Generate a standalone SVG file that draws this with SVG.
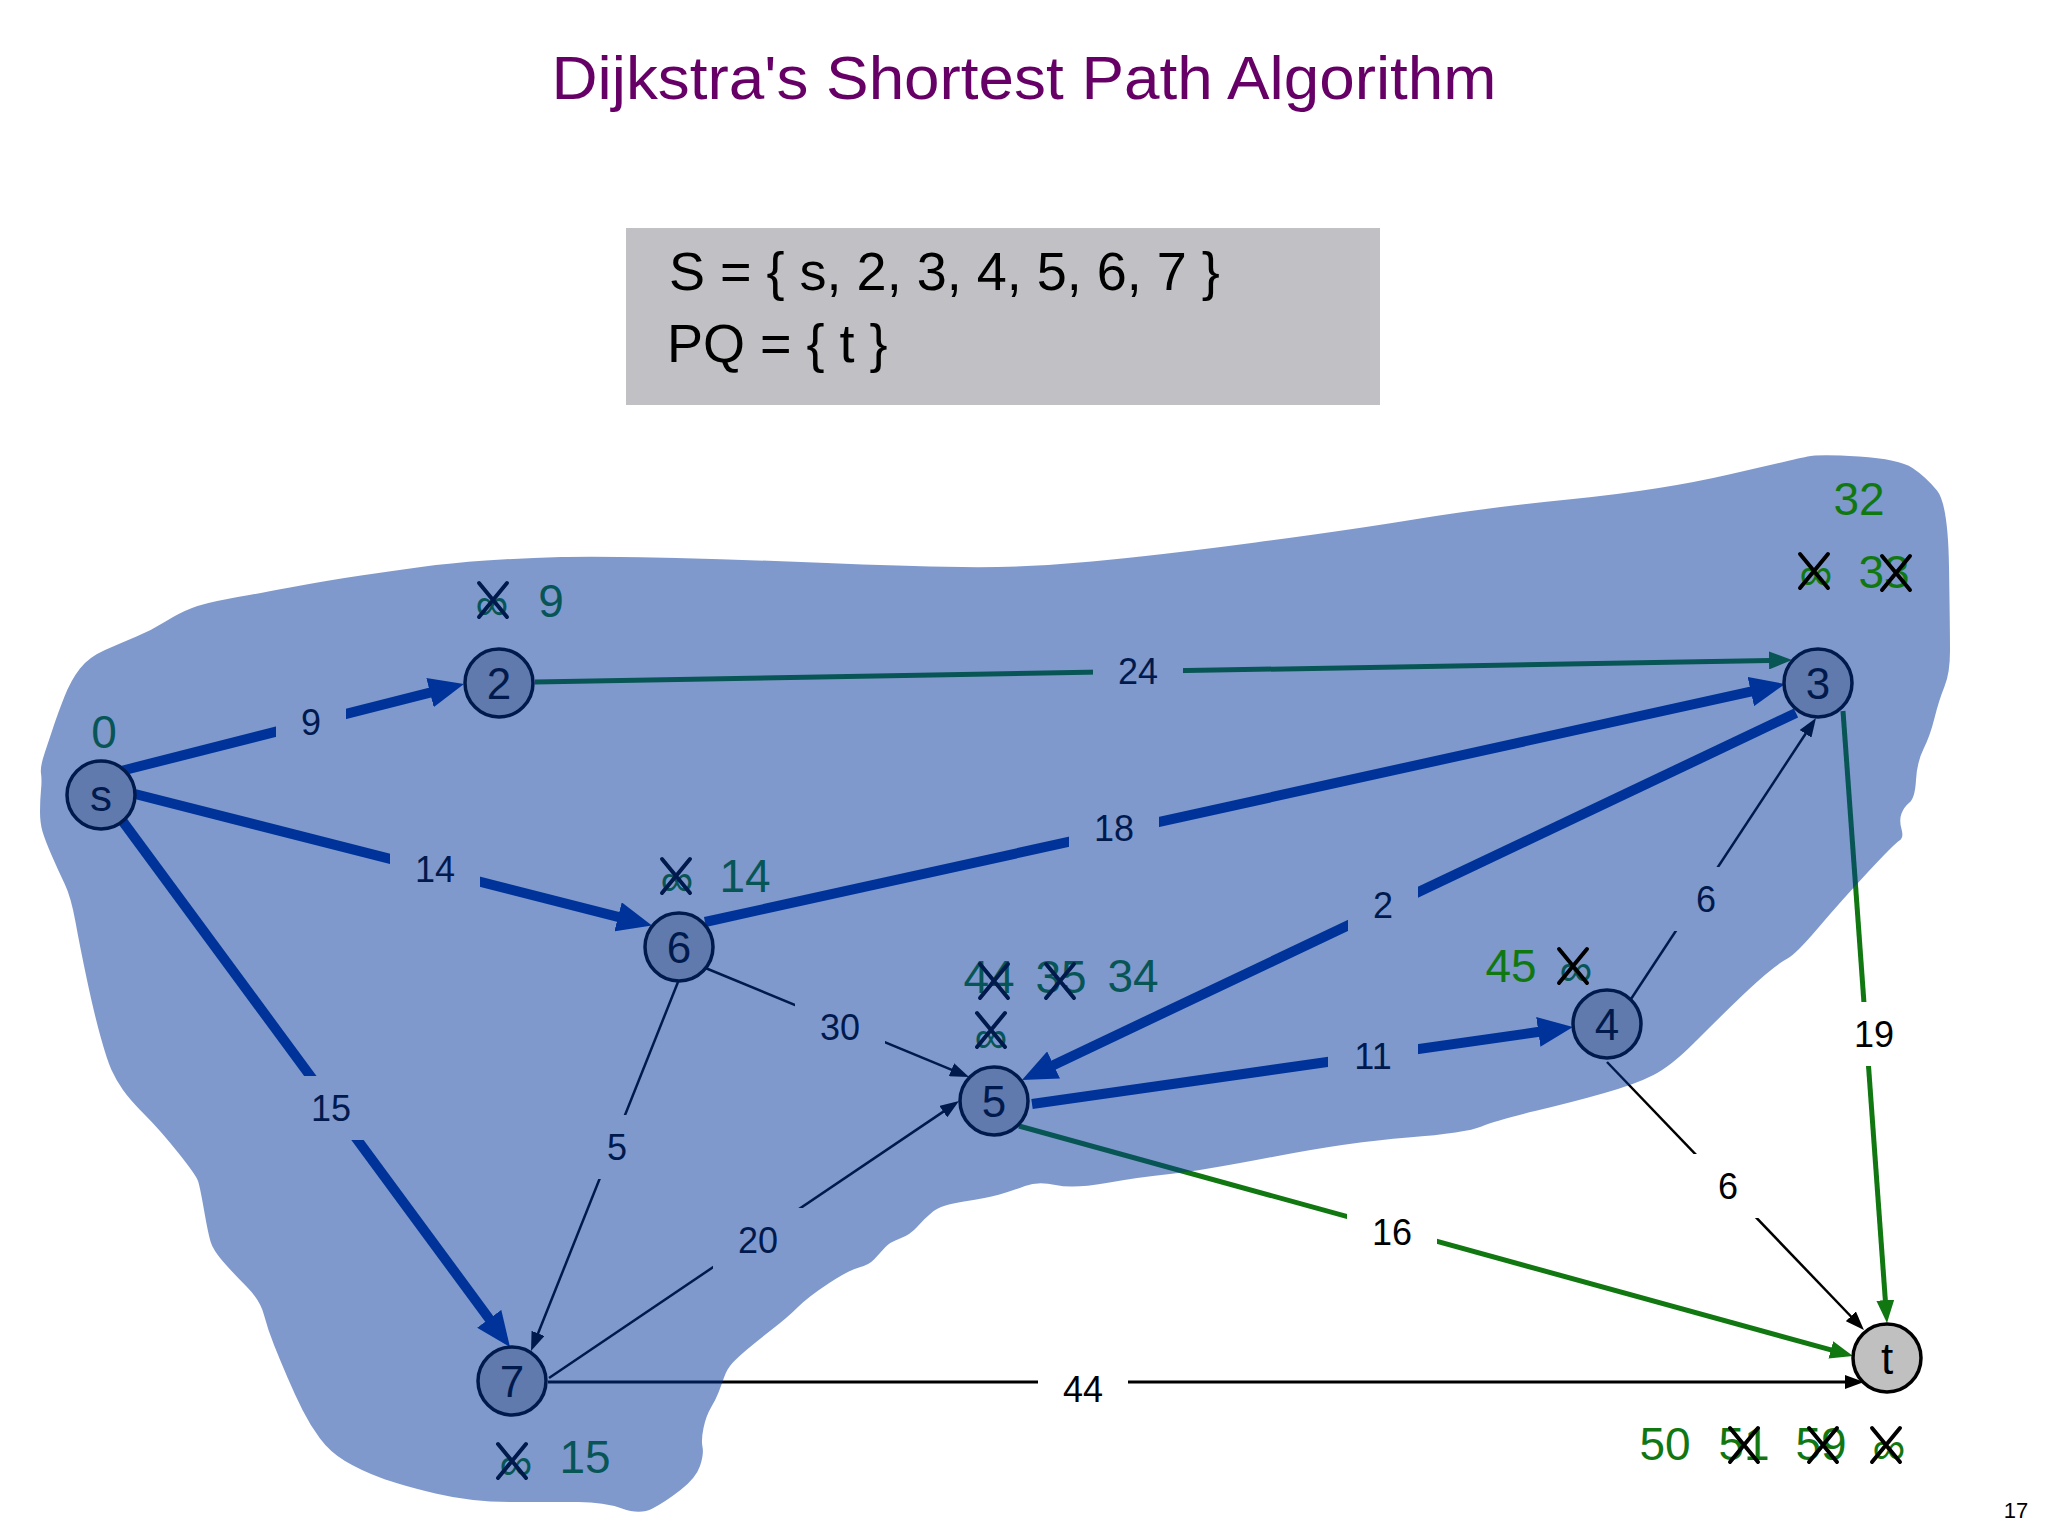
<svg xmlns="http://www.w3.org/2000/svg" xmlns:xlink="http://www.w3.org/1999/xlink" width="2048" height="1536" viewBox="0 0 2048 1536">
<style>
text{font-family:"Liberation Sans",Arial,sans-serif}
.title{font-size:62px;fill:#660066;text-anchor:middle}
.box{font-size:54px;fill:#000}
.el{font-size:36px;fill:#000;text-anchor:middle}
.nl{font-size:44px;fill:#000;text-anchor:middle}
.dl{font-size:46px;fill:#117711;text-anchor:middle}
.x{stroke:#000;stroke-width:4;stroke-linecap:round;fill:none}
.thick{stroke:#003399;stroke-width:10;fill:none}
.green{stroke:#117711;stroke-width:5;fill:none}
.thin{stroke:#000;stroke-width:2.5;fill:none}
.lb{fill:#fff}
.node circle{fill:#C0C0C0;stroke:#000;stroke-width:3.5}
</style>
<defs>
<marker id="aThick" markerUnits="userSpaceOnUse" markerWidth="36" markerHeight="30" viewBox="0 0 36 30" refX="1" refY="15" orient="auto"><path d="M0,0 L35,15 L0,30 z" fill="#003399"/></marker>
<marker id="aGreen" markerUnits="userSpaceOnUse" markerWidth="24" markerHeight="18" viewBox="0 0 24 18" refX="1" refY="9" orient="auto"><path d="M0,0 L23,9 L0,18 z" fill="#117711"/></marker>
<marker id="aThin" markerUnits="userSpaceOnUse" markerWidth="20" markerHeight="14" viewBox="0 0 20 14" refX="1" refY="7" orient="auto"><path d="M0,0 L19,7 L0,14 z" fill="#000"/></marker>
<g id="xm"><path class="x" d="M-14,-17 L14,17 M14,-17 L-14,17"/></g>
</defs>
<rect width="2048" height="1536" fill="#fff"/>
<text class="title" x="1024" y="99" textLength="945" lengthAdjust="spacingAndGlyphs">Dijkstra's Shortest Path Algorithm</text>
<g id="status">
<rect x="626" y="228" width="754" height="177" fill="#C1C0C4"/>
<text class="box" x="669" y="290">S = { s, 2, 3, 4, 5, 6, 7 }</text>
<text class="box" x="667" y="362">PQ = { t }</text>
</g>
<g id="connectors">
<line class="green" x1="535" y1="682" x2="1770" y2="660.4" marker-end="url(#aGreen)"/>
<line class="green" x1="1843" y1="711" x2="1885.4" y2="1301.1" marker-end="url(#aGreen)"/>
<line class="green" x1="1019" y1="1126" x2="1831.8" y2="1350.2" marker-end="url(#aGreen)"/>
<line class="thin" x1="703" y1="967" x2="952.4" y2="1070.1" marker-end="url(#aThin)"/>
<line class="thin" x1="678" y1="982" x2="537.7" y2="1334.3" marker-end="url(#aThin)"/>
<line class="thin" x1="549" y1="1378" x2="944.1" y2="1111.1" marker-end="url(#aThin)"/>
<line class="thin" x1="1631" y1="999" x2="1806.1" y2="733" marker-end="url(#aThin)"/>
<line class="thin" x1="1607" y1="1062" x2="1851.5" y2="1317" marker-end="url(#aThin)"/>
<line class="thin" x1="548" y1="1382" x2="1846" y2="1382" marker-end="url(#aThin)" style="stroke-width:3"/>
<line class="thick" x1="121" y1="771" x2="431" y2="692.4" marker-end="url(#aThick)"/>
<line class="thick" x1="135" y1="794" x2="619" y2="917.1" marker-end="url(#aThick)"/>
<line class="thick" x1="121" y1="819" x2="489.8" y2="1319.6" marker-end="url(#aThick)"/>
<line class="thick" x1="705" y1="922" x2="1751.8" y2="691.3" marker-end="url(#aThick)"/>
<line class="thick" x1="1796" y1="713" x2="1052.7" y2="1065.4" marker-end="url(#aThick)"/>
<line class="thick" x1="1032" y1="1104" x2="1539.3" y2="1031.8" marker-end="url(#aThick)"/>
<g id="edge-labels">
<rect class="lb" x="276" y="690" width="70" height="64"/><text class="el" x="311" y="735">9</text>
<rect class="lb" x="390" y="837" width="90" height="64"/><text class="el" x="435" y="882">14</text>
<rect class="lb" x="286" y="1076" width="90" height="64"/><text class="el" x="331" y="1121">15</text>
<rect class="lb" x="1093" y="639" width="90" height="64"/><text class="el" x="1138" y="684">24</text>
<rect class="lb" x="1069" y="796" width="90" height="64"/><text class="el" x="1114" y="841">18</text>
<rect class="lb" x="1348" y="873" width="70" height="64"/><text class="el" x="1383" y="918">2</text>
<rect class="lb" x="795" y="995" width="90" height="64"/><text class="el" x="840" y="1040">30</text>
<rect class="lb" x="582" y="1115" width="70" height="64"/><text class="el" x="617" y="1160">5</text>
<rect class="lb" x="713" y="1208" width="90" height="64"/><text class="el" x="758" y="1253">20</text>
<rect class="lb" x="1328" y="1024" width="90" height="64"/><text class="el" x="1373" y="1069">11</text>
<rect class="lb" x="1671" y="867" width="70" height="64"/><text class="el" x="1706" y="912">6</text>
<rect class="lb" x="1829" y="1002" width="90" height="64"/><text class="el" x="1874" y="1047">19</text>
<rect class="lb" x="1693" y="1154" width="70" height="64"/><text class="el" x="1728" y="1199">6</text>
<rect class="lb" x="1347" y="1200" width="90" height="64"/><text class="el" x="1392" y="1245">16</text>
<rect class="lb" x="1038" y="1357" width="90" height="64"/><text class="el" x="1083" y="1402">44</text>
</g>
</g>
<g id="node-s" class="node"><circle cx="101" cy="795" r="34"/><text class="nl" x="101" y="811">s</text></g>
<g id="node-2" class="node"><circle cx="499" cy="683" r="34"/><text class="nl" x="499" y="699">2</text></g>
<g id="node-3" class="node"><circle cx="1818" cy="683" r="34"/><text class="nl" x="1818" y="699">3</text></g>
<g id="node-6" class="node"><circle cx="679" cy="947" r="34"/><text class="nl" x="679" y="963">6</text></g>
<g id="node-5" class="node"><circle cx="994" cy="1101" r="34"/><text class="nl" x="994" y="1117">5</text></g>
<g id="node-4" class="node"><circle cx="1607" cy="1024" r="34"/><text class="nl" x="1607" y="1040">4</text></g>
<g id="node-7" class="node"><circle cx="512" cy="1381" r="34"/><text class="nl" x="512" y="1397">7</text></g>
<g id="node-t" class="node"><circle cx="1887" cy="1358" r="34"/><text class="nl" x="1887" y="1374">t</text></g>
<g id="distances-under">
<text class="dl" x="104" y="748">0</text>
<text class="dl" x="492" y="620">∞</text><text class="dl" x="551" y="617">9</text><use xlink:href="#xm" x="493" y="600"/>
<text class="dl" x="677" y="896">∞</text><text class="dl" x="745" y="892">14</text><use xlink:href="#xm" x="676" y="876"/>
<text class="dl" x="516" y="1480">∞</text><text class="dl" x="585" y="1473">15</text><use xlink:href="#xm" x="512" y="1461"/>
<text class="dl" x="989" y="993">44</text><use xlink:href="#xm" x="994" y="981"/>
<text class="dl" x="1061" y="993">35</text><use xlink:href="#xm" x="1060" y="981"/>
<text class="dl" x="1133" y="992">34</text>
<text class="dl" x="991" y="1053">∞</text><use xlink:href="#xm" x="991" y="1030"/>
<text class="dl" x="1576" y="986">∞</text>
</g>
<path id="region-S" fill="#003399" fill-opacity="0.5" d="M40,811.5 Q40,800 41,790 Q42,780 41,773.5 Q40,767 44.5,753.5 Q49,740 53.5,726.5 Q58,713 64.5,696.5 Q71,680 80,668.5 Q89,657 105,650 Q121,643 136.5,636.5 Q152,630 165.5,621.5 Q179,613 192,608 Q205,603 227.5,599 Q250,595 290,587.5 Q330,580 361,575.5 Q392,571 421,567 Q450,563 486,560.5 Q522,558 561,557 Q600,556 676.5,558 Q753,560 826.5,563 Q900,566 961.5,567 Q1023,568 1092,561.5 Q1161,555 1255.5,542.5 Q1350,530 1417,519 Q1484,508 1573,499 Q1662,490 1729,474.5 Q1796,459 1807.5,456.5 Q1819,454 1859,456.5 Q1899,459 1912.5,468 Q1926,477 1937,490.5 Q1948,504 1949,566.5 Q1950,629 1950,651 Q1950,673 1944.5,686.5 Q1939,700 1934.5,718 Q1930,736 1923.5,749 Q1917,762 1916,780 Q1915,798 1909.5,802.5 Q1904,807 1901.5,813.5 Q1899,820 1901.5,829 Q1904,838 1899.5,840.5 Q1895,843 1868,872 Q1841,901 1818.5,927.5 Q1796,954 1787.5,958.5 Q1779,963 1765.5,974.5 Q1752,986 1734,1003.5 Q1716,1021 1693.5,1043.5 Q1671,1066 1653.5,1075 Q1636,1084 1604.5,1093 Q1573,1102 1535,1111 Q1497,1120 1481.5,1126.5 Q1466,1133 1408,1137.5 Q1350,1142 1275,1156.5 Q1200,1171 1170,1174 Q1140,1177 1106.5,1183 Q1073,1189 1055.5,1185 Q1038,1181 1025,1186 Q1012,1191 999.5,1194.5 Q987,1198 964,1201.5 Q941,1205 933,1211.5 Q925,1218 917.5,1226.5 Q910,1235 900,1238.5 Q890,1242 885,1247.5 Q880,1253 874.5,1259 Q869,1265 859,1267.5 Q849,1270 828.5,1283.5 Q808,1297 798,1307 Q788,1317 772.5,1329 Q757,1341 747,1349.5 Q737,1358 732,1363.5 Q727,1369 724,1377.5 Q721,1386 718.5,1392.5 Q716,1399 711,1407.5 Q706,1416 703.5,1428 Q701,1440 702.5,1447 Q704,1454 700,1466 Q696,1478 680.5,1490 Q665,1502 652.5,1508.5 Q640,1515 622,1508.5 Q604,1502 578.5,1502 Q553,1502 512,1502 Q471,1502 435.5,1493.5 Q400,1485 380,1477.5 Q360,1470 345,1461 Q330,1452 320,1438.5 Q310,1425 302.5,1410 Q295,1395 287.5,1377.5 Q280,1360 274,1345 Q268,1330 264,1315 Q260,1300 246.5,1286.5 Q233,1273 223,1261.5 Q213,1250 210.5,1241.5 Q208,1233 204,1210 Q200,1187 198,1181 Q196,1175 178,1152.5 Q160,1130 145,1115 Q130,1100 123,1090 Q116,1080 111.5,1070 Q107,1060 100.5,1036.5 Q94,1013 87,980 Q80,947 75.5,922 Q71,897 64.5,883.5 Q58,870 51.5,855 Q45,840 42.5,831.5 Q40,823 40,811.5 Z"/>
<g id="distances-top">
<text class="dl" x="1859" y="515">32</text>
<text class="dl" x="1816" y="590">∞</text><use xlink:href="#xm" x="1814" y="571"/>
<text class="dl" x="1884" y="588">33</text><use xlink:href="#xm" x="1896" y="573"/>
<text class="dl" x="1511" y="982">45</text><use xlink:href="#xm" x="1573" y="966"/>
<text class="dl" x="1665" y="1460">50</text>
<text class="dl" x="1744" y="1460">51</text><use xlink:href="#xm" x="1744" y="1445"/>
<text class="dl" x="1821" y="1460">59</text><use xlink:href="#xm" x="1823" y="1445"/>
<text class="dl" x="1889" y="1464">∞</text><use xlink:href="#xm" x="1886" y="1445"/>
</g>
<text x="2016" y="1518" style="font-size:22px;text-anchor:middle;fill:#000">17</text>
</svg>
